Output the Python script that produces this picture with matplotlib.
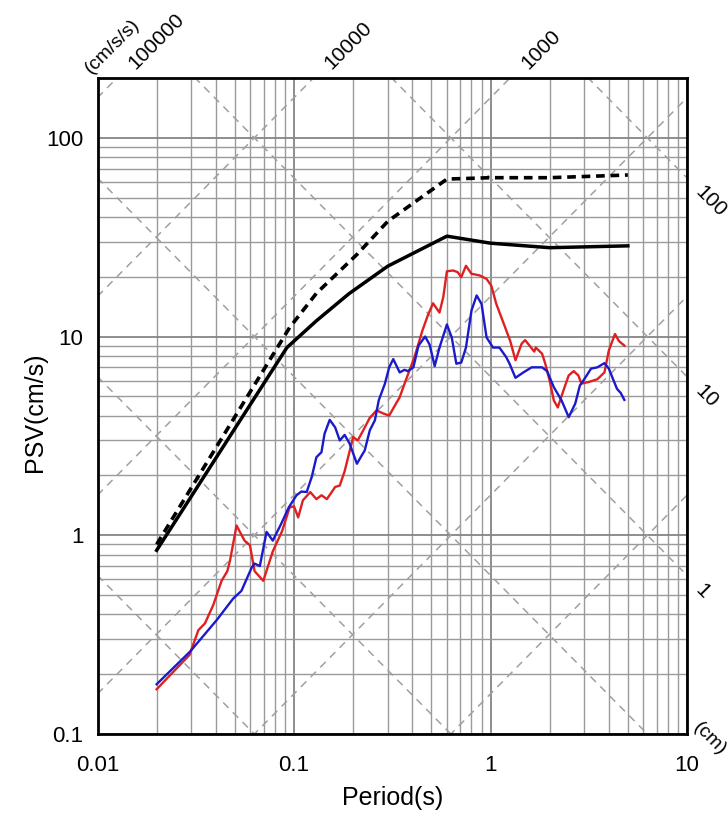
import numpy as np
import matplotlib.pyplot as plt
from matplotlib.ticker import LogLocator, NullFormatter, FixedLocator, FixedFormatter

plt.rcParams['font.family'] = ['Liberation Sans', 'DejaVu Sans']

# ── data ──
design_T = [0.02, 0.092, 0.13, 0.19, 0.3, 0.6, 1.0, 2.0, 5.0]
design_sv = [0.84, 8.8, 12.0, 16.4, 22.6, 32.0, 29.5, 28.0, 28.6]

level2_T = [0.02, 0.095, 0.13, 0.21, 0.3, 0.6, 1.0, 2.0, 5.0]
level2_sv = [0.9, 11.1, 16.5, 26.0, 38.0, 62.0, 63.0, 63.0, 65.0]

red_T = [0.02, 0.0294, 0.0326, 0.0352, 0.0388, 0.0428, 0.0458, 0.0473, 0.051,
         0.056, 0.0597, 0.063, 0.0698, 0.078, 0.087, 0.095, 0.1, 0.105, 0.111,
         0.121, 0.13, 0.138, 0.147, 0.162, 0.171, 0.181, 0.2, 0.211, 0.225,
         0.243, 0.263, 0.285, 0.305, 0.33, 0.345, 0.37, 0.41, 0.45, 0.48, 0.51,
         0.55, 0.575, 0.6, 0.645, 0.68, 0.71, 0.75, 0.8, 0.88, 0.955, 1.01,
         1.07, 1.18, 1.26, 1.34, 1.44, 1.5, 1.58, 1.67, 1.7, 1.83, 1.9, 2.0,
         2.1, 2.2, 2.35, 2.5, 2.65, 2.8, 2.9, 3.15, 3.5, 3.8, 4.0, 4.3, 4.5, 4.8]
red_sv = [0.168, 0.25, 0.333, 0.36, 0.445, 0.59, 0.66, 0.75, 1.12,
          0.94, 0.89, 0.66, 0.59, 0.83, 1.05, 1.38, 1.4, 1.23, 1.5,
          1.65, 1.52, 1.59, 1.52, 1.75, 1.78, 2.1, 3.12, 3.0, 3.37,
          3.9, 4.25, 4.1, 4.0, 4.59, 4.95, 6.0, 7.87, 10.7, 12.8, 14.7,
          13.2, 15.8, 21.3, 21.5, 21.1, 19.9, 22.7, 20.7, 20.3, 19.5, 18.0,
          14.6, 11.3, 9.5, 7.6, 9.2, 9.6, 9.0, 8.4, 8.8, 8.2, 7.3, 6.0,
          4.77, 4.4, 5.35, 6.37, 6.7, 6.37, 5.8, 5.9, 6.1, 6.6, 8.5, 10.3, 9.5, 9.0]

blue_T = [0.02, 0.0296, 0.0404, 0.049, 0.054, 0.061, 0.063, 0.067, 0.0725,
          0.078, 0.086, 0.094, 0.103, 0.109, 0.116, 0.123, 0.13, 0.138, 0.143,
          0.152, 0.162, 0.171, 0.181, 0.192, 0.209, 0.22, 0.229, 0.243, 0.258,
          0.27, 0.29, 0.305, 0.32, 0.345, 0.365, 0.38, 0.405, 0.43, 0.465, 0.49,
          0.52, 0.55, 0.6, 0.635, 0.67, 0.71, 0.75, 0.8, 0.85, 0.9, 0.955,
          1.03, 1.11, 1.2, 1.25, 1.34, 1.47, 1.62, 1.83, 1.94, 2.1, 2.3, 2.5,
          2.7, 2.85, 3.0, 3.25, 3.5, 3.8, 4.0, 4.4, 4.6, 4.8]
blue_sv = [0.178, 0.26, 0.374, 0.48, 0.525, 0.69, 0.72, 0.70, 1.04,
           0.94, 1.14, 1.38, 1.59, 1.66, 1.65, 1.96, 2.47, 2.62, 3.24,
           3.81, 3.49, 3.0, 3.2, 2.89, 2.29, 2.5, 2.67, 3.37, 3.79,
           4.78, 5.78, 7.0, 7.7, 6.6, 6.8, 6.7, 7.0, 9.0, 10.0, 9.1,
           7.1, 8.8, 11.5, 9.9, 7.3, 7.4, 8.8, 13.5, 16.1, 14.6, 9.9,
           8.8, 8.8, 7.9, 7.3, 6.2, 6.6, 7.0, 7.0, 6.7, 5.56, 4.77, 3.93,
           4.6, 5.67, 6.1, 6.9, 7.0, 7.35, 6.9, 5.46, 5.2, 4.8]

acc_levels = [1, 10, 100, 1000, 10000, 100000, 1000000]
disp_levels = [0.0001, 0.001, 0.01, 0.1, 1, 10, 100, 1000]
acc_labels = [100000, 10000, 1000]
disp_labels = [100, 10, 1]

x_ticks = [0.01, 0.1, 1, 10]
x_ticklabels = ['0.01', '0.1', '1', '10']
y_ticks = [0.1, 1, 10, 100]
y_ticklabels = ['0.1', '1', '10', '100']

T_MIN, T_MAX = 0.01, 10
SV_MIN, SV_MAX = 0.1, 200

fig = plt.figure(figsize=(7.28, 8.13), dpi=100)
ax = fig.add_axes([97.5 / 728, 1 - 734 / 813, 589.5 / 728, 656 / 813])
ax.set_xscale('log')
ax.set_yscale('log')
ax.set_xlim(T_MIN, T_MAX)
ax.set_ylim(SV_MIN, SV_MAX)

# ── log grid ──
for axis in (ax.xaxis, ax.yaxis):
    axis.set_minor_locator(LogLocator(base=10, subs=np.arange(2, 10)))
    axis.set_minor_formatter(NullFormatter())
ax.xaxis.set_major_locator(FixedLocator(x_ticks))
ax.xaxis.set_major_formatter(FixedFormatter(x_ticklabels))
ax.yaxis.set_major_locator(FixedLocator(y_ticks))
ax.yaxis.set_major_formatter(FixedFormatter(y_ticklabels))
ax.grid(which='major', color='#858585', lw=1.3, zorder=0)
ax.grid(which='minor', color='#9a9a9a', lw=1.0, zorder=0)
ax.set_axisbelow(True)
ax.tick_params(which='both', length=0)
ax.tick_params(axis='x', labelsize=16, pad=15)
ax.tick_params(axis='y', labelsize=16, pad=10)

# ── tripartite diagonals ──
T_line = np.array([T_MIN, T_MAX])
for a in acc_levels:
    ax.plot(T_line, a * T_line / (2 * np.pi), color='#a0a0a0', lw=1.1,
            ls=(0, (5, 4)), zorder=1)
for d in disp_levels:
    ax.plot(T_line, 2 * np.pi * d / T_line, color='#a0a0a0', lw=1.1,
            ls=(0, (5, 4)), zorder=1)

for a in acc_labels:
    t_exit = 2 * np.pi * SV_MAX / a
    ax.annotate(str(a), xy=(t_exit, SV_MAX), xytext=(13, 6),
                textcoords='offset points', rotation=45, rotation_mode='anchor',
                ha='left', va='baseline', fontsize=15, annotation_clip=False)
ax.annotate('(cm/s/s)', xy=(T_MIN, SV_MAX), xytext=(-5, 3),
            textcoords='offset points', rotation=45, rotation_mode='anchor',
            ha='left', va='baseline', fontsize=14, annotation_clip=False)

for d in disp_labels:
    sv_exit = 2 * np.pi * d / T_MAX
    ax.annotate(str(d), xy=(T_MAX, sv_exit), xytext=(5, -11),
                textcoords='offset points', rotation=-45, rotation_mode='anchor',
                ha='left', va='baseline', fontsize=15, annotation_clip=False)
ax.annotate('(cm)', xy=(T_MAX, SV_MIN), xytext=(4, 4),
            textcoords='offset points', rotation=-45, rotation_mode='anchor',
            ha='left', va='baseline', fontsize=14, annotation_clip=False)

# ── spectra ──
ax.plot(level2_T, level2_sv, color='black', lw=2.6, ls=(0, (2.4, 1.6)), zorder=4)
ax.plot(design_T, design_sv, color='black', lw=2.5, zorder=4)
ax.plot(red_T, red_sv, color='#e02020', lw=1.7, zorder=3,
        solid_joinstyle='round')
ax.plot(blue_T, blue_sv, color='#1a1acc', lw=1.7, zorder=3,
        solid_joinstyle='round')

for s in ax.spines.values():
    s.set_linewidth(2.0)
    s.set_color('black')
    s.set_zorder(6)

ax.set_xlabel('Period(s)', fontsize=18, labelpad=7)
ax.set_ylabel('PSV(cm/s)', fontsize=18)
ax.yaxis.set_label_coords(-0.086, 0.49)

fig.savefig('out.png', dpi=100)
